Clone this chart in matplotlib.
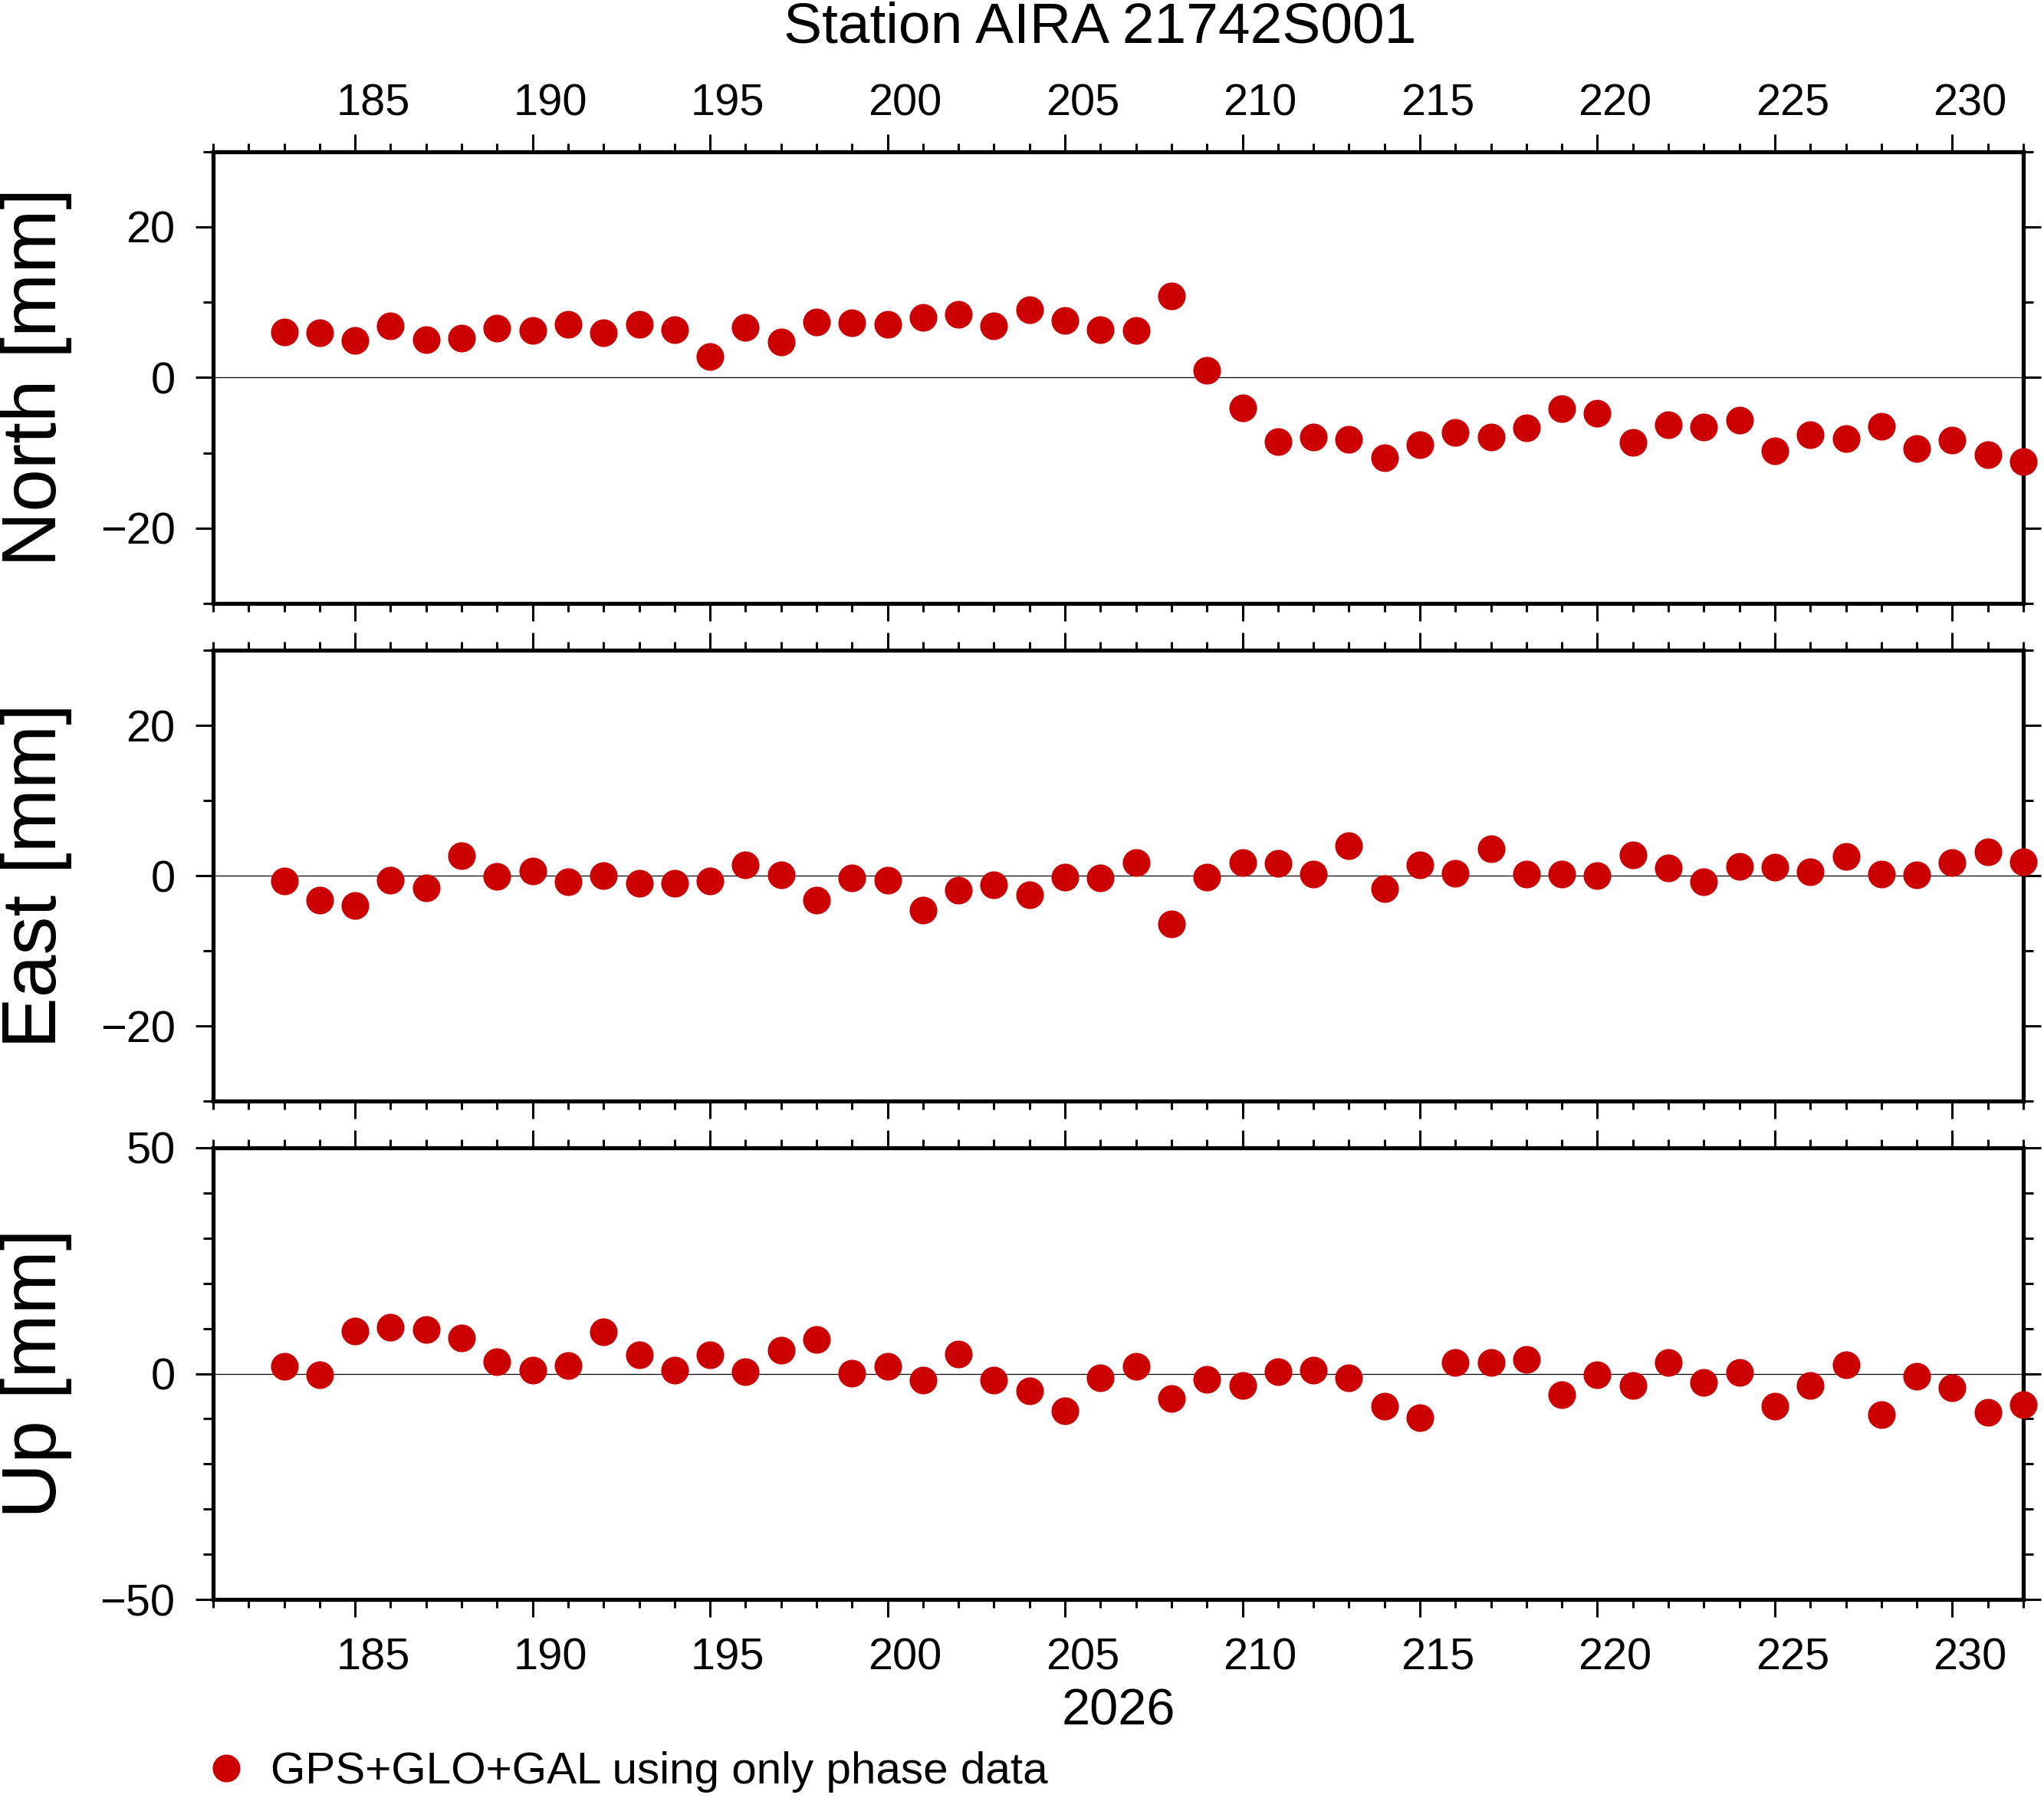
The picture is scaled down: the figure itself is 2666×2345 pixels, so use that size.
import matplotlib.pyplot as plt
from matplotlib.ticker import MultipleLocator, NullFormatter

days = list(range(183, 233))

north = [6.0, 5.9, 4.9, 6.9, 5.0, 5.2, 6.6, 6.2, 7.1, 5.9,
         7.1, 6.3, 2.8, 6.7, 4.7, 7.4, 7.3, 7.1, 8.0, 8.4,
         6.9, 9.0, 7.6, 6.3, 6.2, 10.8, 1.0, -4.0, -8.5, -7.9,
         -8.2, -10.7, -8.9, -7.3, -7.9, -6.7, -4.1, -4.8, -8.6, -6.3,
         -6.6, -5.7, -9.7, -7.6, -8.1, -6.5, -9.4, -8.3, -10.2, -11.2]
east = [-0.7, -3.2, -4.0, -0.6, -1.6, 2.7, -0.1, 0.6, -0.8, 0.0,
        -1.0, -1.0, -0.7, 1.5, 0.1, -3.2, -0.3, -0.6, -4.6, -1.9,
        -1.2, -2.5, -0.2, -0.3, 1.8, -6.4, -0.2, 1.8, 1.7, 0.2,
        4.0, -1.7, 1.4, 0.3, 3.6, 0.2, 0.2, 0.0, 2.8, 1.0,
        -0.8, 1.2, 1.1, 0.5, 2.6, 0.2, 0.1, 1.8, 3.2, 1.9]
up = [1.6, -0.2, 9.5, 10.3, 9.8, 7.9, 2.7, 0.8, 1.8, 9.3,
      4.2, 0.8, 4.2, 0.5, 5.1, 7.6, 0.1, 1.6, -1.4, 4.3,
      -1.4, -3.8, -8.2, -1.0, 1.6, -5.6, -1.2, -2.7, 0.5, 0.8,
      -1.0, -7.3, -9.8, 2.4, 2.5, 3.1, -4.7, -0.3, -2.6, 2.4,
      -2.0, 0.2, -7.3, -2.7, 1.9, -9.0, -0.6, -3.1, -8.6, -6.9]

label_days = [185, 190, 195, 200, 205, 210, 215, 220, 225, 230]

plt.rcParams['font.family'] = ['Liberation Sans', 'DejaVu Sans']
plt.rcParams['font.size'] = 20.8

red = '#cc0000'
W, H = 2666, 2345
fig = plt.figure(figsize=(W / 200, H / 200), dpi=200)

# axes boxes in pixels: (top, bottom)
boxes = [(197.7, 787), (848.4, 1436), (1497, 2086)]
left_px, right_px = 278, 2639
panels = [
    ('North [mm]', north, 30, 20),
    ('East [mm]', east, 30, 20),
    ('Up [mm]', up, 50, 50),
]

axes = []
for (top, bot), (name, vals, lim, major) in zip(boxes, panels):
    ax = fig.add_axes([left_px / W, 1 - bot / H,
                       (right_px - left_px) / W, (bot - top) / H])
    ax.axhline(0, color='black', lw=0.45, zorder=1)
    pts, = ax.plot(days, vals, 'o', color=red, ms=13, mec='none',
                   clip_on=False, zorder=3)
    ax.set_xlim(181, 232)
    ax.set_ylim(-lim, lim)
    ax.xaxis.set_major_locator(MultipleLocator(5))
    ax.xaxis.set_minor_locator(MultipleLocator(1))
    ax.xaxis.set_major_formatter(NullFormatter())
    ax.yaxis.set_major_locator(MultipleLocator(major))
    ax.yaxis.set_minor_locator(MultipleLocator(10))
    ax.tick_params(which='both', direction='out', top=True, bottom=True,
                   left=True, right=True, width=1.1, labelright=False)
    ax.tick_params(which='major', length=8.3, pad=9.5)
    ax.tick_params(which='minor', length=4.0)
    ax.tick_params(axis='y', which='minor', length=4.6)
    for sp in ax.spines.values():
        sp.set_linewidth(1.9)
    cy = 1 - (top + bot) / 2 / H
    fig.text(47 / W, cy, name, rotation=90, ha='center', va='center',
             fontsize=36)
    axes.append(ax)

# day labels sit between ticks, as in the original
for d in label_days:
    axes[0].text(d + 0.5, 1.080, str(d), transform=axes[0].get_xaxis_transform(),
                 ha='center', va='baseline')
    axes[2].text(d + 0.5, -0.156, str(d), transform=axes[2].get_xaxis_transform(),
                 ha='center', va='baseline')

fig.text(1459 / W, 1 - 2250 / H, '2026', ha='center', va='baseline', fontsize=24)
fig.text(1435 / W, 1 - 55 / H, 'Station AIRA 21742S001', ha='center',
         va='baseline', fontsize=27)

fig.legend([pts], ['GPS+GLO+GAL using only phase data'], loc='center left',
           bbox_to_anchor=(265.5 / W, 1 - 2311 / H), frameon=False,
           handlelength=1.0, handletextpad=0.5, borderaxespad=0, borderpad=0,
           numpoints=1, fontsize=21)

fig.savefig('out.png', dpi=200)
